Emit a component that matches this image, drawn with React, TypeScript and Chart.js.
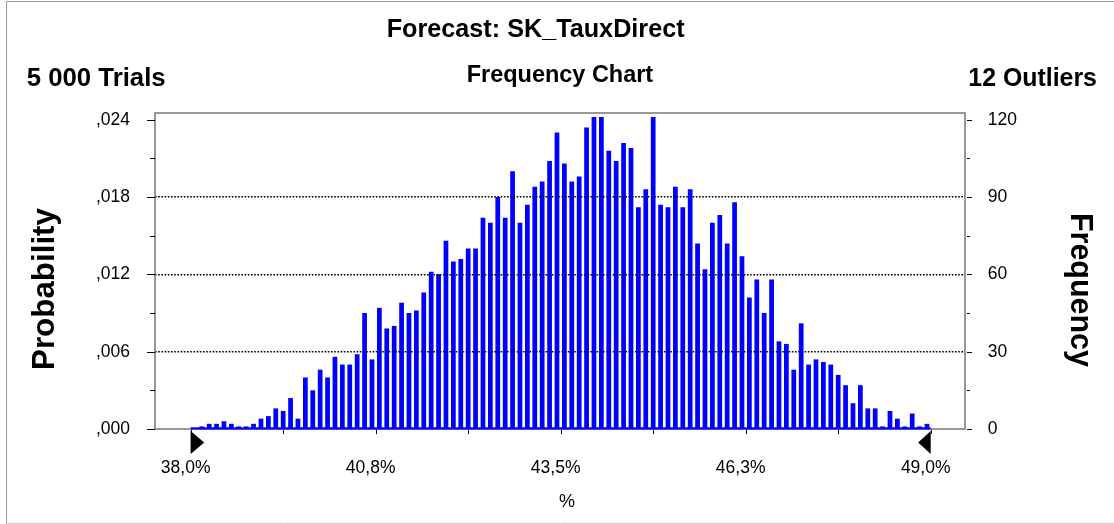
import React, { useEffect, useRef } from 'react';
import { Chart, registerables } from 'chart.js';

Chart.register(...registerables);

// ---- texts ----
const TITLE = 'Forecast: SK_TauxDirect';
const LEFT_HEADER = '5 000 Trials';
const CENTER_HEADER = 'Frequency Chart';
const RIGHT_HEADER = '12 Outliers';
const LEFT_AXIS_TITLE = 'Probability';
const RIGHT_AXIS_TITLE = 'Frequency';
const X_AXIS_TITLE = '%';

// ---- data ----
const TRIALS = 5000;
const BIN_START = 38.0; // %
const BIN_WIDTH = 0.11; // %
const FREQUENCIES = [
  0, 1, 2, 2, 3, 2, 1, 1, 2, 4,
  5, 8, 7, 12, 4, 20, 15, 23, 20, 28,
  25, 25, 29, 45, 27, 47, 39, 40, 49, 45,
  46, 53, 61, 60, 73, 65, 66, 70, 70, 82,
  80, 90, 82, 100, 80, 87, 94, 96, 104, 115,
  103, 96, 98, 117, 121, 121, 108, 104, 111, 109,
  86, 93, 121, 87, 86, 94, 86, 93, 72, 62,
  80, 83, 72, 88, 67, 51, 58, 45, 58, 34,
  33, 23, 41, 25, 27, 26, 25, 21, 17, 10,
  17, 8, 8, 1, 7, 4, 1, 6, 1, 2,
];
const X_TICKS = [38.0, 40.75, 43.5, 46.25, 49.0];
const X_TICK_LABELS = ['38,0%', '40,8%', '43,5%', '46,3%', '49,0%'];
const X_MINOR_TICKS = [39.375, 42.125, 44.875, 47.625];
const FREQ_TICKS = [0, 30, 60, 90, 120];
const FREQ_MINOR_TICKS = [15, 45, 75, 105];
const FREQ_GRID = [30, 60, 90];
const PROB_TICKS = [0, 0.006, 0.012, 0.018, 0.024];
const PROB_TICK_LABELS = [',000', ',006', ',012', ',018', ',024'];
const RANGE_MARKERS = [38.0, 49.0];

// ---- layout ----
const W = 1114;
const H = 524;
const X_MIN = 37.47;
const X_MAX = 49.51;
const FREQ_MAX = 122.6;
const PLOT_LEFT = 155;
const PLOT_RIGHT = 965;
const PLOT_TOP = 113;
const PLOT_BOTTOM = 429;
const SANS = '"Liberation Sans", Arial, Helvetica, sans-serif';
const TICK_FONT = { family: SANS, size: 17.5 };

// draws bold text whose font size is chosen so the text spans the given width
function fitText(ctx: CanvasRenderingContext2D, text: string, x: number, y: number, target: number) {
  ctx.save();
  ctx.font = `bold 20px ${SANS}`;
  const w0 = ctx.measureText(text).width;
  const size = (20 * target) / w0;
  ctx.font = `bold ${size.toFixed(2)}px ${SANS}`;
  ctx.textAlign = 'left';
  ctx.textBaseline = 'alphabetic';
  ctx.fillText(text, x, y);
  ctx.restore();
}

const decorPlugin = {
  id: 'decor',
  afterDraw(chart: any) {
    const { ctx, chartArea: a, scales } = chart;
    const xs = scales.x;
    const fs = scales.freq;
    ctx.save();

    // outer frame
    ctx.lineWidth = 1;
    ctx.strokeStyle = '#9a9a9a';
    ctx.beginPath();
    ctx.moveTo(6.5, H);
    ctx.lineTo(6.5, 1.5);
    ctx.lineTo(W, 1.5);
    ctx.stroke();
    ctx.strokeStyle = '#cfcfcf';
    ctx.beginPath();
    ctx.moveTo(6.5, H - 0.5);
    ctx.lineTo(W, H - 0.5);
    ctx.stroke();

    // plot frame
    ctx.strokeStyle = '#777777';
    ctx.lineWidth = 1.5;
    ctx.strokeRect(a.left, a.top, a.right - a.left, a.bottom - a.top);

    // blue base line over the simulated range
    const x0 = xs.getPixelForValue(RANGE_MARKERS[0]);
    const x1 = xs.getPixelForValue(RANGE_MARKERS[1]);
    const yb = fs.getPixelForValue(0);
    ctx.fillStyle = '#0000ff';
    ctx.fillRect(x0, yb - 1.7, x1 - x0, 2.2);

    // tick marks
    ctx.strokeStyle = '#000';
    ctx.lineWidth = 1;
    const hLine = (xa: number, xb: number, y: number) => {
      const yy = Math.round(y) + 0.5;
      ctx.beginPath();
      ctx.moveTo(xa, yy);
      ctx.lineTo(xb, yy);
      ctx.stroke();
    };
    FREQ_TICKS.forEach((v) => {
      const y = fs.getPixelForValue(v);
      hLine(a.left - 8, a.left, y);
      hLine(a.right + 2, a.right + 7, y);
    });
    FREQ_MINOR_TICKS.forEach((v) => {
      const y = fs.getPixelForValue(v);
      hLine(a.left - 5, a.left, y);
      hLine(a.right + 2, a.right + 5, y);
    });
    [...X_TICKS, ...X_MINOR_TICKS].forEach((v) => {
      const xx = Math.round(xs.getPixelForValue(v)) + 0.5;
      ctx.beginPath();
      ctx.moveTo(xx, a.bottom + 1);
      ctx.lineTo(xx, a.bottom + 5);
      ctx.stroke();
    });

    // range triangles
    ctx.fillStyle = '#000';
    ctx.beginPath();
    ctx.moveTo(x0, yb + 2);
    ctx.lineTo(x0 + 13.5, yb + 13.5);
    ctx.lineTo(x0, yb + 25);
    ctx.closePath();
    ctx.fill();
    ctx.beginPath();
    ctx.moveTo(x1, yb + 2);
    ctx.lineTo(x1 - 12.5, yb + 13.5);
    ctx.lineTo(x1, yb + 25);
    ctx.closePath();
    ctx.fill();

    // header texts
    ctx.fillStyle = '#000';
    fitText(ctx, TITLE, 386.7, 37, 298);
    fitText(ctx, LEFT_HEADER, 26.7, 86, 139);
    fitText(ctx, CENTER_HEADER, 466.7, 82, 186.6);
    fitText(ctx, RIGHT_HEADER, 968.3, 86, 128.7);

    // axis titles
    ctx.save();
    ctx.translate(54, 370);
    ctx.rotate(-Math.PI / 2);
    fitText(ctx, LEFT_AXIS_TITLE, 0, 0, 162);
    ctx.restore();

    ctx.save();
    ctx.translate(1071, 213);
    ctx.rotate(Math.PI / 2);
    fitText(ctx, RIGHT_AXIS_TITLE, 0, 0, 154);
    ctx.restore();

    ctx.font = `18px ${SANS}`;
    ctx.textAlign = 'center';
    ctx.textBaseline = 'alphabetic';
    ctx.fillText(X_AXIS_TITLE, (a.left + a.right) / 2 + 7, 507);

    ctx.restore();
  },
};

export default function App() {
  const canvasRef = useRef<HTMLCanvasElement | null>(null);

  useEffect(() => {
    const canvas = canvasRef.current;
    if (!canvas) return;
    const chart = new Chart(canvas, {
      type: 'bar',
      data: {
        datasets: [
          {
            label: RIGHT_AXIS_TITLE,
            data: FREQUENCIES.map((v, i) => ({ x: BIN_START + BIN_WIDTH * (i + 0.5), y: v })),
            backgroundColor: '#0000ff',
            borderWidth: 0,
            xAxisID: 'x',
            yAxisID: 'freq',
            barPercentage: 0.64,
            categoryPercentage: 1,
          },
        ],
      },
      options: {
        animation: false,
        responsive: false,
        devicePixelRatio: 1,
        layout: { padding: { top: PLOT_TOP, left: 0, right: 0, bottom: 0 } },
        plugins: {
          legend: { display: false },
          tooltip: { enabled: false },
          title: { display: false },
        },
        scales: {
          x: {
            type: 'linear',
            position: 'bottom',
            min: X_MIN,
            max: X_MAX,
            offset: false,
            afterBuildTicks: (s: any) => {
              s.ticks = X_TICKS.map((v) => ({ value: v }));
            },
            afterFit: (s: any) => {
              s.height = H - PLOT_BOTTOM;
            },
            grid: { display: false, drawTicks: false },
            border: { display: false },
            ticks: {
              autoSkip: false,
              maxRotation: 0,
              minRotation: 0,
              padding: 29,
              labelOffset: -5,
              color: '#000',
              font: TICK_FONT,
              callback: (_v: any, i: number) => X_TICK_LABELS[i] ?? '',
            },
          },
          prob: {
            type: 'linear',
            position: 'left',
            min: 0,
            max: FREQ_MAX / TRIALS,
            afterBuildTicks: (s: any) => {
              s.ticks = PROB_TICKS.map((v) => ({ value: v }));
            },
            afterFit: (s: any) => {
              s.width = PLOT_LEFT;
            },
            grid: { display: false, drawTicks: false },
            border: { display: false },
            ticks: {
              padding: 25,
              color: '#000',
              font: TICK_FONT,
              callback: (_v: any, i: number) => PROB_TICK_LABELS[i] ?? '',
            },
          },
          freq: {
            type: 'linear',
            position: 'right',
            min: 0,
            max: FREQ_MAX,
            afterBuildTicks: (s: any) => {
              s.ticks = FREQ_TICKS.map((v) => ({ value: v }));
            },
            afterFit: (s: any) => {
              s.width = W - PLOT_RIGHT;
            },
            grid: {
              display: true,
              drawOnChartArea: true,
              drawTicks: false,
              lineWidth: 1.5,
              z: 1,
              color: (c: any) => (c.tick && FREQ_GRID.includes(c.tick.value) ? '#000' : 'rgba(0,0,0,0)'),
            },
            border: { display: false, dash: [1.6, 1.6] },
            ticks: {
              padding: 22.7,
              color: '#000',
              font: TICK_FONT,
              callback: (v: any) => String(v),
            },
          },
        },
      } as any,
      plugins: [decorPlugin],
    });
    return () => chart.destroy();
  }, []);

  return (
    <div style={{ position: 'fixed', left: 0, top: 0, width: W, height: H, background: '#fff' }}>
      <canvas ref={canvasRef} width={W} height={H} style={{ display: 'block' }} />
    </div>
  );
}
